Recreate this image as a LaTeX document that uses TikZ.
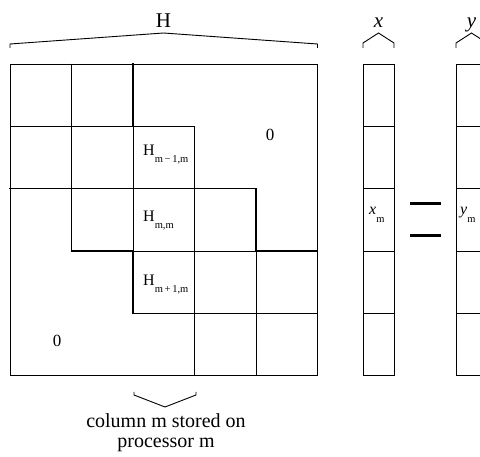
\documentclass[tikz,border=0pt]{standalone}
\usepackage{fontspec}
\setmainfont{Liberation Serif}
\newcommand{\blk}[1]{H\raisebox{-7pt}{\fontsize{10.5}{10.5}\selectfont #1}}
\newcommand{\vsub}[2]{\textit{#1}\raisebox{-7.5pt}{\fontsize{10.5}{10.5}\selectfont #2}}
\begin{document}
\begin{tikzpicture}[x=1pt,y=-1pt,
  grid/.style={line width=0.9pt, line cap=rect},
  bandedge/.style={line width=1.4pt, line join=miter, line cap=rect},
  brace/.style={line width=0.9pt, line join=miter},
  bar/.style={line width=3pt},
  celltext/.style={font=\fontsize{16}{16}\selectfont, inner sep=0pt, anchor=base west},
  zero/.style={font=\fontsize{17}{17}\selectfont, inner sep=0pt, anchor=base},
  title/.style={font=\fontsize{21}{21}\selectfont, inner sep=0pt, anchor=base},
  caption/.style={font=\fontsize{20}{20}\selectfont, inner sep=0pt, anchor=base}]
\useasboundingbox (0,0) rectangle (480,457);
\clip (0,0) rectangle (480,457);

% matrix H: outer frame
\draw[grid] (10,64) rectangle (317.5,375.5);
% interior block lines
\draw[grid] (71.5,64) -- (71.5,188.6);
\draw[grid] (10,126.3) -- (133,126.3);
\draw[grid] (133,126.3) -- (133,251);
\draw[grid] (71.5,188.6) -- (194.5,188.6);
\draw[grid] (133,251) -- (256,251);
\draw[grid] (194.5,188.6) -- (194.5,313.3);
\draw[grid] (256,251) -- (256,375.5);
\draw[grid] (194.5,313.3) -- (317.5,313.3);
% edges of the block-tridiagonal band
\draw[bandedge] (133,64) -- (133,126.3) -- (194.5,126.3) -- (194.5,188.6)
  -- (256,188.6) -- (256,251) -- (317.5,251);
\draw[bandedge] (10,188.6) -- (71.5,188.6) -- (71.5,251) -- (133,251)
  -- (133,313.3) -- (194.5,313.3) -- (194.5,375.5);

% vectors x and y
\foreach \xl/\xr in {363/394, 456/487}{
  \draw[grid] (\xl,64) rectangle (\xr,375.5);
  \foreach \yy in {126.3,188.6,251,313.3}
    \draw[grid] (\xl,\yy) -- (\xr,\yy);
}

% equals sign
\draw[bar] (410,204) -- (441,204);
\draw[bar] (410,236) -- (441,236);

% block labels
\node[celltext] (hup)  at (143,156) {\blk{m\,−\,1,m}};
\node[celltext] (hdia) at (143,222) {\blk{m,m}};
\node[celltext] (hlow) at (143,286) {\blk{m\,+\,1,m}};
\node[zero] (zup)  at (270,141) {0};
\node[zero] (zlow) at (57,347) {0};
\node[celltext] (xm) at (369,215) {\vsub{x}{m}};
\node[celltext] (ym) at (460,215) {\vsub{y}{m}};

% overbraces and titles
\draw[brace] (10,48) -- (10,44) -- (163.5,33) -- (317.5,44) -- (317.5,48);
\draw[brace] (363,48) -- (363,43) -- (378.5,33) -- (394,43) -- (394,48);
\draw[brace] (456,48) -- (456,43) -- (471.5,33) -- (487,43) -- (487,48);
\node[title] (hname) at (163.5,28) {H};
\node[title] (xname) at (378.5,28) {\textit{x}};
\node[title] (yname) at (471.5,28) {\textit{y}};

% underbrace for column m
\draw[brace] (134,392) -- (134,395) -- (165,407) -- (196,395) -- (196,392);
\node[caption] (cap1) at (166,428) {column m stored on};
\node[caption] (cap2) at (166,448) {processor m};
\end{tikzpicture}
\end{document}
